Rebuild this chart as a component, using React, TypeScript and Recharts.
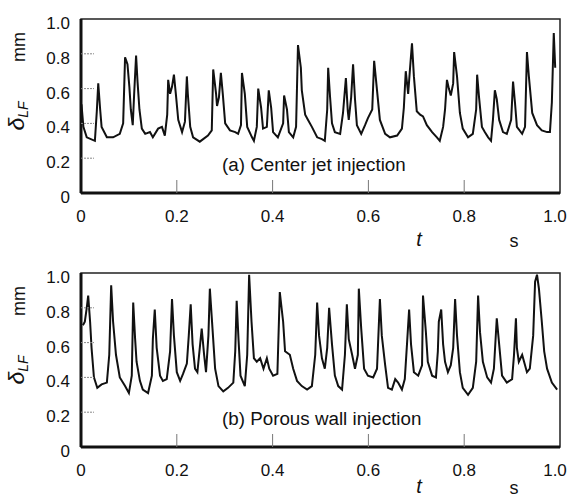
import { Line, LineChart, ReferenceArea, XAxis, YAxis } from 'recharts';

const font = '"Liberation Sans", Arial, sans-serif';

// tick values + labels
const xTicks = [0, 0.2, 0.4, 0.6, 0.8, 1.0];
const xTickLabels = ['0', '0.2', '0.4', '0.6', '0.8', '1.0'];
const yTicks = [0, 0.2, 0.4, 0.6, 0.8, 1.0];
const yTickLabels = ['0', '0.2', '0.4', '0.6', '0.8', '1.0'];

// (a) center jet injection, time (s)
const jetT = [
  0.001, 0.005, 0.012, 0.029, 0.033, 0.036, 0.04, 0.043, 0.054, 0.067, 0.081, 0.088, 0.092, 0.097, 0.101, 0.104,
  0.108, 0.111, 0.115, 0.118, 0.122, 0.127, 0.134, 0.144, 0.15, 0.161, 0.169, 0.175, 0.18, 0.182, 0.186, 0.19,
  0.194, 0.198, 0.203, 0.211, 0.217, 0.221, 0.223, 0.228, 0.234, 0.248, 0.265, 0.273, 0.276, 0.282, 0.284, 0.288,
  0.292, 0.296, 0.301, 0.311, 0.322, 0.328, 0.334, 0.336, 0.342, 0.347, 0.357, 0.361, 0.367, 0.37, 0.376, 0.38,
  0.388, 0.392, 0.397, 0.401, 0.411, 0.422, 0.424, 0.43, 0.434, 0.443, 0.449, 0.453, 0.459, 0.461, 0.468, 0.474,
  0.482, 0.493, 0.503, 0.509, 0.514, 0.516, 0.52, 0.524, 0.53, 0.541, 0.547, 0.553, 0.557, 0.559, 0.564, 0.568,
  0.572, 0.576, 0.585, 0.593, 0.599, 0.608, 0.612, 0.618, 0.624, 0.635, 0.645, 0.66, 0.67, 0.674, 0.678, 0.683,
  0.687, 0.691, 0.695, 0.701, 0.708, 0.714, 0.722, 0.733, 0.743, 0.749, 0.756, 0.76, 0.764, 0.768, 0.772, 0.777,
  0.779, 0.785, 0.791, 0.797, 0.808, 0.818, 0.825, 0.827, 0.831, 0.837, 0.843, 0.85, 0.856, 0.86, 0.864, 0.868,
  0.873, 0.881, 0.889, 0.898, 0.902, 0.906, 0.91, 0.921, 0.927, 0.931, 0.935, 0.942, 0.952, 0.962, 0.973, 0.979,
  0.983, 0.987, 0.99,
];
// delta_LF (mm)
const jetDelta = [
  0.51, 0.38, 0.32, 0.3, 0.47, 0.63, 0.48, 0.38, 0.32, 0.32, 0.34, 0.4, 0.78, 0.74, 0.61, 0.48,
  0.39, 0.57, 0.79, 0.64, 0.48, 0.37, 0.34, 0.35, 0.32, 0.37, 0.38, 0.33, 0.45, 0.65, 0.57, 0.61,
  0.68, 0.57, 0.42, 0.35, 0.41, 0.67, 0.57, 0.38, 0.32, 0.295, 0.33, 0.36, 0.71, 0.57, 0.5, 0.55,
  0.69, 0.57, 0.4, 0.36, 0.35, 0.34, 0.39, 0.69, 0.57, 0.38, 0.32, 0.3, 0.38, 0.6, 0.49, 0.37,
  0.38, 0.59, 0.49, 0.35, 0.32, 0.4, 0.56, 0.48, 0.35, 0.32, 0.38, 0.85, 0.72, 0.59, 0.45, 0.42,
  0.38, 0.32, 0.31, 0.3, 0.48, 0.72, 0.55, 0.4, 0.35, 0.34, 0.46, 0.66, 0.47, 0.42, 0.55, 0.74,
  0.54, 0.39, 0.34, 0.39, 0.43, 0.48, 0.76, 0.59, 0.42, 0.34, 0.32, 0.33, 0.37, 0.49, 0.7, 0.57,
  0.72, 0.86, 0.67, 0.47, 0.45, 0.44, 0.39, 0.35, 0.32, 0.3, 0.38, 0.48, 0.65, 0.6, 0.56, 0.63,
  0.81, 0.67, 0.46, 0.37, 0.32, 0.34, 0.48, 0.68, 0.55, 0.38, 0.35, 0.32, 0.3, 0.42, 0.59, 0.54,
  0.42, 0.35, 0.34, 0.42, 0.64, 0.52, 0.38, 0.34, 0.38, 0.81, 0.67, 0.46, 0.39, 0.36, 0.35, 0.35,
  0.52, 0.92, 0.72,
];

// (b) porous wall injection, time (s)
const wallT = [
  0.004, 0.008, 0.012, 0.015, 0.019, 0.022, 0.027, 0.034, 0.043, 0.054, 0.059, 0.063, 0.067, 0.073, 0.081, 0.092,
  0.1, 0.106, 0.109, 0.113, 0.116, 0.123, 0.129, 0.14, 0.148, 0.15, 0.154, 0.158, 0.165, 0.171, 0.179, 0.186,
  0.19, 0.194, 0.2, 0.207, 0.213, 0.221, 0.225, 0.229, 0.233, 0.238, 0.243, 0.248, 0.252, 0.257, 0.261, 0.266,
  0.269, 0.275, 0.28, 0.287, 0.297, 0.307, 0.318, 0.322, 0.325, 0.329, 0.333, 0.342, 0.347, 0.351, 0.356, 0.361,
  0.367, 0.374, 0.381, 0.388, 0.393, 0.401, 0.41, 0.415, 0.422, 0.426, 0.436, 0.443, 0.451, 0.461, 0.472, 0.482,
  0.489, 0.493, 0.497, 0.503, 0.509, 0.514, 0.518, 0.524, 0.53, 0.537, 0.545, 0.551, 0.555, 0.559, 0.566, 0.572,
  0.578, 0.58, 0.585, 0.591, 0.599, 0.61, 0.618, 0.624, 0.628, 0.635, 0.641, 0.649, 0.656, 0.662, 0.67, 0.676,
  0.681, 0.685, 0.689, 0.695, 0.704, 0.712, 0.714, 0.72, 0.724, 0.733, 0.741, 0.745, 0.747, 0.752, 0.756, 0.76,
  0.766, 0.772, 0.777, 0.781, 0.785, 0.791, 0.797, 0.808, 0.818, 0.825, 0.829, 0.833, 0.839, 0.848, 0.856, 0.862,
  0.868, 0.873, 0.879, 0.889, 0.9, 0.904, 0.908, 0.91, 0.914, 0.921, 0.925, 0.931, 0.937, 0.944, 0.948, 0.952,
  0.956, 0.962, 0.967, 0.973, 0.983, 0.994,
];
const wallDelta = [
  0.7, 0.72, 0.8, 0.87, 0.72, 0.57, 0.4, 0.34, 0.36, 0.37, 0.53, 0.93, 0.72, 0.53, 0.4, 0.35,
  0.31, 0.41, 0.83, 0.62, 0.49, 0.38, 0.33, 0.31, 0.41, 0.62, 0.79, 0.57, 0.41, 0.38, 0.39, 0.55,
  0.85, 0.64, 0.43, 0.38, 0.42, 0.48, 0.64, 0.82, 0.59, 0.45, 0.43, 0.57, 0.68, 0.53, 0.43, 0.64,
  0.91, 0.66, 0.45, 0.35, 0.32, 0.34, 0.37, 0.55, 0.84, 0.61, 0.41, 0.35, 0.53, 0.99, 0.72, 0.51,
  0.49, 0.51, 0.45, 0.51, 0.45, 0.41, 0.42, 0.89, 0.72, 0.55, 0.53, 0.45, 0.38, 0.35, 0.33, 0.35,
  0.53, 0.83, 0.64, 0.51, 0.45, 0.57, 0.8, 0.59, 0.41, 0.35, 0.33, 0.53, 0.82, 0.62, 0.53, 0.45,
  0.53, 0.91, 0.68, 0.45, 0.41, 0.4, 0.45, 0.85, 0.64, 0.47, 0.34, 0.33, 0.39, 0.37, 0.33, 0.39,
  0.61, 0.79, 0.59, 0.43, 0.41, 0.47, 0.87, 0.66, 0.49, 0.41, 0.4, 0.55, 0.72, 0.79, 0.59, 0.49,
  0.43, 0.47, 0.57, 0.85, 0.64, 0.43, 0.34, 0.3, 0.34, 0.49, 0.87, 0.66, 0.49, 0.4, 0.37, 0.45,
  0.74, 0.59, 0.41, 0.37, 0.39, 0.53, 0.74, 0.57, 0.49, 0.53, 0.49, 0.43, 0.45, 0.64, 0.95, 0.99,
  0.91, 0.72, 0.55, 0.45, 0.37, 0.33,
];

const jetData = jetT.map((t, i) => ({ t, delta: jetDelta[i] }));
const wallData = wallT.map((t, i) => ({ t, delta: wallDelta[i] }));

function XTick({ x, y, payload }: any) {
  const i = xTicks.indexOf(payload.value);
  const inner = payload.value > 0 && payload.value < 1;
  // last label sits a bit inside the frame in the original
  const dx = payload.value === 1 ? -5 : 0;
  return (
    <g>
      {inner && <line x1={x} x2={x} y1={y} y2={y - 13} stroke="#777" strokeWidth={1} />}
      <text x={x + dx} y={y + 29} textAnchor="middle" fontSize={17} fill="#111" fontFamily={font}>
        {xTickLabels[i]}
      </text>
    </g>
  );
}

function YTick({ x, y, payload }: any) {
  const i = yTicks.indexOf(payload.value);
  const inner = payload.value > 0 && payload.value < 1;
  return (
    <g>
      {inner && <line x1={x} x2={x + 13} y1={y} y2={y} stroke="#888" strokeWidth={1} strokeDasharray="2 1" />}
      <text x={x - 11} y={y + 10} textAnchor="end" fontSize={17} fill="#111" fontFamily={font}>
        {yTickLabels[i]}
      </text>
    </g>
  );
}

function Panel({ data, top, caption, unitY }: { data: { t: number; delta: number }[]; top: number; caption: string; unitY: number }) {
  return (
    <div style={{ position: 'absolute', left: 0, top, width: 570, height: 243 }}>
      <LineChart width={570} height={243} data={data} margin={{ top: 19, right: 10, left: 0, bottom: 20 }}>
        <XAxis
          dataKey="t"
          type="number"
          domain={[0, 1]}
          ticks={xTicks}
          height={30}
          tickSize={0}
          tickMargin={0}
          tickLine={false}
          axisLine={{ stroke: '#111', strokeWidth: 3 }}
          tick={<XTick />}
        />
        <YAxis
          type="number"
          domain={[0, 1]}
          ticks={yTicks}
          width={81}
          tickSize={0}
          tickMargin={0}
          tickLine={false}
          axisLine={{ stroke: '#111', strokeWidth: 3 }}
          tick={<YTick />}
        />
        <ReferenceArea x1={0} x2={1} y1={0} y2={1} fill="none" stroke="#222" strokeWidth={1.5} />
        <Line type="linear" dataKey="delta" stroke="#111" strokeWidth={2} dot={false} isAnimationActive={false} />
      </LineChart>
      <svg width={570} height={262} style={{ position: 'absolute', left: 0, top: 0, pointerEvents: 'none', overflow: 'visible' }}>
        <text x={25} y={47} transform="rotate(-90 25 47)" textAnchor="middle" fontSize={18} fill="#111" fontFamily={font}>
          mm
        </text>
        <text x={24} y={116} transform="rotate(-90 24 116)" textAnchor="middle" fill="#111" fontFamily={font} fontStyle="italic">
          <tspan fontSize={23}>δ</tspan>
          <tspan fontSize={14} dy={4}>LF</tspan>
        </text>
        <text x={222} y={171} fontSize={18.8} fill="#111" fontFamily={font}>
          {caption}
        </text>
        <text x={419} y={unitY} fontSize={20} fill="#111" fontFamily={font} fontStyle="italic" textAnchor="middle">
          t
        </text>
        <text x={514} y={unitY + 1} fontSize={18} fill="#111" fontFamily={font} textAnchor="middle">
          s
        </text>
      </svg>
    </div>
  );
}

export default function App() {
  return (
    <div style={{ position: 'absolute', left: 0, top: 0, width: 570, height: 497, background: '#fff', overflow: 'hidden' }}>
      <Panel data={jetData} top={0} caption="(a) Center jet injection" unitY={246} />
      <Panel data={wallData} top={254} caption="(b) Porous wall injection" unitY={239} />
    </div>
  );
}
